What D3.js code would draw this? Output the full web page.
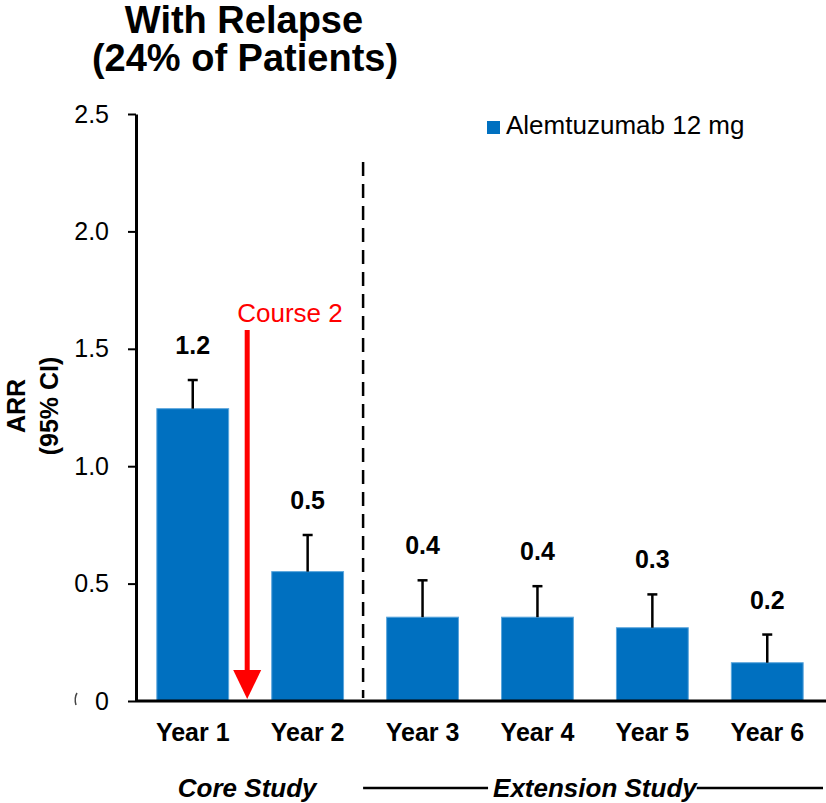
<!DOCTYPE html>
<html>
<head>
<meta charset="utf-8">
<script src="https://cdn.jsdelivr.net/npm/d3@7"></script>
<style>
  body { margin: 0; background: #fff; }
  svg { display: block; font-family: "Liberation Sans", Arial, sans-serif; }
</style>
</head>
<body>
<svg id="chart" width="826" height="803"></svg>
<script>
// data
const years = ["Year 1", "Year 2", "Year 3", "Year 4", "Year 5", "Year 6"];
const arr = [1.245, 0.551, 0.357, 0.357, 0.312, 0.163];
const ciUpper = [1.367, 0.707, 0.514, 0.489, 0.454, 0.283];
const valueLabels = ["1.2", "0.5", "0.4", "0.4", "0.3", "0.2"];
const yTicks = [0, 0.5, 1.0, 1.5, 2.0, 2.5];
const yTickLabels = ["0", "0.5", "1.0", "1.5", "2.0", "2.5"];
const seriesName = "Alemtuzumab 12 mg";
const blue = "#0070C0";

const svg = d3.select("#chart");

const x = d3.scaleBand().domain(years).range([135, 825]).paddingInner(0.375).paddingOuter(0.19);
const y = d3.scaleLinear().domain([0, 2.5]).range([701, 114]);

// title
svg.append("text").attr("x", 244).attr("y", 33).attr("text-anchor", "middle")
  .attr("font-size", 38).attr("font-weight", "bold").text("With Relapse");
svg.append("text").attr("x", 245).attr("y", 71).attr("text-anchor", "middle")
  .attr("font-size", 38).attr("font-weight", "bold").text("(24% of Patients)");

// y axis
const yAxis = svg.append("g").attr("transform", "translate(136,0)")
  .call(d3.axisLeft(y).tickValues(yTicks).tickFormat((d, i) => yTickLabels[i])
    .tickSize(8).tickSizeOuter(0).tickPadding(19));
yAxis.select(".domain").attr("stroke", "#000").attr("stroke-width", 3);
yAxis.selectAll(".tick line").attr("stroke", "#000").attr("stroke-width", 2);
yAxis.selectAll(".tick text").attr("font-size", 25).attr("fill", "#000")
  .attr("font-family", "'Liberation Sans', Arial, sans-serif");

// stray mark left of the 0 label
svg.append("path").attr("d", "M77,693 Q74,698 76,705").attr("fill", "none")
  .attr("stroke", "#444").attr("stroke-width", 1.5);

// y axis title
const yt = svg.append("text").attr("transform", "translate(25,406) rotate(-90)")
  .attr("text-anchor", "middle").attr("font-size", 25).attr("font-weight", "bold");
yt.append("tspan").attr("x", 0).attr("y", 0).text("ARR");
yt.append("tspan").attr("x", 0).attr("y", 33).text("(95% CI)");

// divider between core and extension study
const divX = x(years[2]) - x.step() * x.paddingInner() / 2 - 2;
svg.append("line").attr("x1", divX).attr("x2", divX).attr("y1", 162).attr("y2", 698)
  .attr("stroke", "#000").attr("stroke-width", 2.5).attr("stroke-dasharray", "14,8");

// bars
svg.append("g").selectAll("rect").data(years).join("rect")
  .attr("x", d => x(d))
  .attr("y", (d, i) => y(arr[i]))
  .attr("width", x.bandwidth())
  .attr("height", (d, i) => y(0) - y(arr[i]))
  .attr("fill", blue).attr("stroke", "#5aa5dc").attr("stroke-width", 1);

// error bars (upper only)
const eb = svg.append("g").attr("stroke", "#000").attr("stroke-width", 2.5);
years.forEach((d, i) => {
  const cx = x(d) + x.bandwidth() / 2;
  eb.append("line").attr("x1", cx).attr("x2", cx).attr("y1", y(arr[i])).attr("y2", y(ciUpper[i]));
  eb.append("line").attr("x1", cx - 5).attr("x2", cx + 5).attr("y1", y(ciUpper[i])).attr("y2", y(ciUpper[i]));
});

// value labels
svg.append("g").selectAll("text").data(years).join("text")
  .attr("x", d => x(d) + x.bandwidth() / 2)
  .attr("y", (d, i) => y(ciUpper[i]) - 26)
  .attr("text-anchor", "middle").attr("font-size", 25).attr("font-weight", "bold")
  .text((d, i) => valueLabels[i]);

// x axis
const xAxis = svg.append("g").attr("transform", "translate(0,701)")
  .call(d3.axisBottom(x).tickSize(0).tickPadding(22));
xAxis.select(".domain").attr("d", "M136,0H826").attr("stroke", "#000").attr("stroke-width", 3);
xAxis.selectAll(".tick text").attr("font-size", 25).attr("font-weight", "bold").attr("fill", "#000")
  .attr("font-family", "'Liberation Sans', Arial, sans-serif");

// Course 2 arrow
const arrowX = x(years[1]) - x.step() * x.paddingInner() / 2 - 3;
svg.append("line").attr("x1", arrowX).attr("x2", arrowX).attr("y1", 330).attr("y2", 672)
  .attr("stroke", "#ff0000").attr("stroke-width", 5);
svg.append("path")
  .attr("d", `M${arrowX - 14},670 L${arrowX + 14},670 L${arrowX},699 Z`)
  .attr("fill", "#ff0000");
svg.append("text").attr("x", arrowX - 10).attr("y", 322).attr("font-size", 26)
  .attr("fill", "#ff0000").text("Course 2");

// legend
svg.append("rect").attr("x", 487).attr("y", 121).attr("width", 13).attr("height", 13).attr("fill", blue);
svg.append("text").attr("x", 506).attr("y", 134).attr("font-size", 26).text(seriesName);

// study periods
const coreX = (x(years[0]) + x(years[1]) + x.bandwidth()) / 2;
const extX = (x(years[2]) + x(years[5]) + x.bandwidth()) / 2;
svg.append("text").attr("x", coreX - 3).attr("y", 797).attr("text-anchor", "middle")
  .attr("font-size", 26).attr("font-weight", "bold").attr("font-style", "italic").text("Core Study");
const ext = svg.append("text").attr("x", extX).attr("y", 797).attr("text-anchor", "middle")
  .attr("font-size", 26).attr("font-weight", "bold").attr("font-style", "italic").text("Extension Study");
const extW = ext.node().getComputedTextLength();
svg.append("line").attr("x1", divX).attr("x2", extX - extW / 2 - 5).attr("y1", 788).attr("y2", 788)
  .attr("stroke", "#000").attr("stroke-width", 2.5);
svg.append("line").attr("x1", extX + extW / 2).attr("x2", 823).attr("y1", 788).attr("y2", 788)
  .attr("stroke", "#000").attr("stroke-width", 2.5);
</script>
</body>
</html>
